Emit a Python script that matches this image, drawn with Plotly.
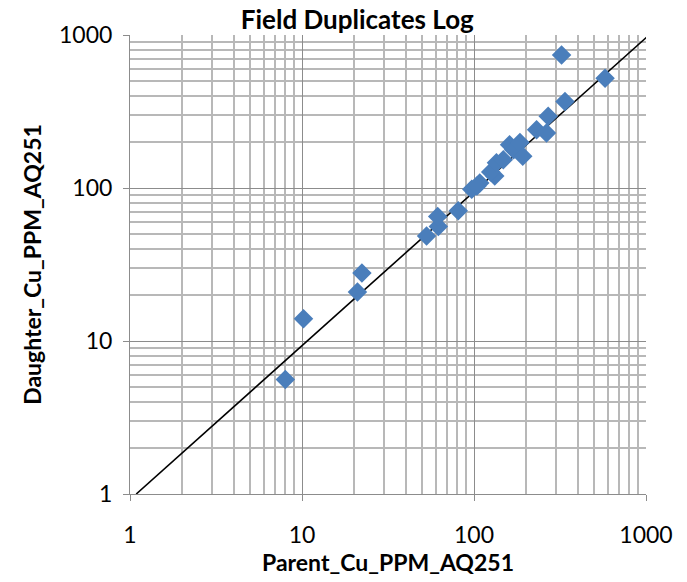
import plotly.graph_objects as go

parent = [8.0, 10.2, 21.0, 22.3, 53, 62, 61.5, 81, 97, 108, 104, 132, 125, 135, 148,
          161, 170, 185, 192, 231, 264, 270, 338, 323, 578]
daughter = [5.6, 14.0, 20.9, 27.8, 48.6, 56, 65, 71, 98, 108, 103, 120, 127, 146, 153,
            192, 178, 198, 161, 240, 229, 294, 367, 740, 522]

trend_x = [1.087, 1071]
trend_y = [1.0, 1028]

major_ticks = [1, 10, 100, 1000]
minor_ticks = [m * d for d in (1, 10, 100) for m in range(2, 10)]

FONT = "Lato"

fig = go.Figure()
fig.add_trace(go.Scatter(x=trend_x, y=trend_y, mode="lines",
                         line=dict(color="black", width=1.6), hoverinfo="skip",
                         showlegend=False))
fig.add_trace(go.Scatter(x=parent, y=daughter, mode="markers",
                         marker=dict(symbol="diamond", size=15, color="#4a7ebb",
                                     line=dict(width=0)),
                         showlegend=False))

axis_common = dict(
    type="log",
    tickvals=major_ticks,
    ticktext=[str(v) for v in major_ticks],
    showgrid=True, gridcolor="#8c8c8c", gridwidth=1,
    minor=dict(tickvals=minor_ticks, showgrid=True, gridcolor="#b8b8b8", gridwidth=1.5,
               ticks="outside", ticklen=0),
    showline=True, linecolor="#8c8c8c", linewidth=1,
    ticks="outside", ticklen=6, tickcolor="#8c8c8c",
    tickfont=dict(family=FONT, size=23, color="black"),
    zeroline=False,
)

fig.update_layout(
    width=687, height=582,
    margin=dict(l=130, r=41, t=35, b=86),
    paper_bgcolor="white", plot_bgcolor="white",
    title=dict(text="<b>Field Duplicates Log</b>", x=0.52, xanchor="center",
               y=0.966, yanchor="middle",
               font=dict(family=FONT, size=26, color="black")),
    xaxis=dict(range=[0, 3], ticklabelstandoff=14,
               title=dict(text="<b>Parent_Cu_PPM_AQ251</b>", standoff=6,
                          font=dict(family=FONT, size=23, color="black")),
               **axis_common),
    yaxis=dict(range=[0, 3], ticklabelstandoff=6,
               title=dict(text="<b>Daughter_Cu_PPM_AQ251</b>", standoff=10,
                          font=dict(family=FONT, size=23, color="black")),
               **axis_common),
)

fig.write_html("out.html")
